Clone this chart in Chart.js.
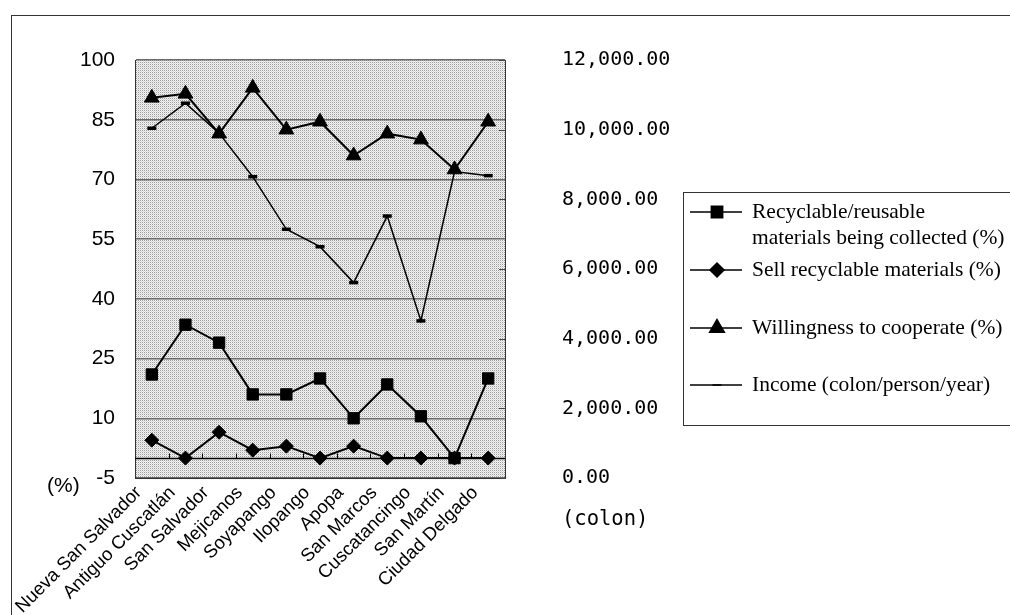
<!DOCTYPE html>
<html><head><meta charset="utf-8">
<script src="https://cdn.jsdelivr.net/npm/chart.js@4.4.1/dist/chart.umd.min.js"></script>
<style>html,body{margin:0;padding:0;background:#fff;overflow:hidden}#wrap{position:relative;width:1010px;height:615px}</style>
</head><body><div id="wrap"><canvas id="c" width="1010" height="615"></canvas></div>
<script>
const categories = ["Nueva San Salvador","Antiguo Cuscatlán","San Salvador","Mejicanos","Soyapango","Ilopango","Apopa","San Marcos","Cuscatancingo","San Martín","Ciudad Delgado"];
const recyclable = [21, 33.5, 29, 16, 16, 20, 10, 18.5, 10.5, 0, 20];
const sellRecyclable = [4.5, 0, 6.5, 2, 3, 0, 3, 0, 0, 0, 0];
const willingness = [90.5, 91.5, 81.5, 93, 82.5, 84.5, 76, 81.5, 80, 72.5, 84.5];
const income = [10040, 10760, 9900, 8650, 7140, 6640, 5610, 7520, 4510, 8800, 8680];
const leftTicks = [-5, 10, 25, 40, 55, 70, 85, 100];
const rightTicks = [0, 2000, 4000, 6000, 8000, 10000, 12000];
const seriesLabels = ["Recyclable/reusable\nmaterials being collected (%)", "Sell recyclable materials (%)", "Willingness to cooperate (%)", "Income (colon/person/year)"];
const leftAxisTitle = "(%)";
const rightAxisTitle = "(colon)";

const MONO = "'DejaVu Sans Mono', monospace";
const SANS = "'Liberation Sans', Arial, sans-serif";
const SERIF = "'Liberation Serif', 'Times New Roman', serif";

function makePattern(ctx){
  const c = document.createElement('canvas'); c.width = 2; c.height = 2;
  const x = c.getContext('2d');
  x.fillStyle = '#f4f4f4'; x.fillRect(0,0,2,2);
  x.fillStyle = '#9a9a9a'; x.fillRect(0,0,1,1);
  x.fillStyle = '#d8d8d8'; x.fillRect(1,1,1,1);
  return ctx.createPattern(c, 'repeat');
}

const decor = {
  id: 'decor',
  beforeDraw(chart){
    const ctx = chart.ctx, a = chart.chartArea;
    ctx.save();
    ctx.fillStyle = '#fff'; ctx.fillRect(0,0,chart.width,chart.height);
    ctx.strokeStyle = '#333'; ctx.lineWidth = 1;
    ctx.strokeRect(11.5, 15.5, 1200, 800);
    ctx.fillStyle = makePattern(ctx);
    ctx.fillRect(a.left, a.top, a.right - a.left, a.bottom - a.top);
    ctx.restore();
  },
  beforeDatasetsDraw(chart){
    const ctx = chart.ctx, a = chart.chartArea;
    const y = chart.scales.y, x = chart.scales.x, y1 = chart.scales.y1;
    ctx.save();
    const y0 = Math.round(y.getPixelForValue(0)) + 0.5;
    ctx.strokeStyle = '#000'; ctx.lineWidth = 1.5;
    ctx.beginPath(); ctx.moveTo(a.left, y0); ctx.lineTo(a.right, y0); ctx.stroke();
    ctx.lineWidth = 1;
    for (let i = 0; i < categories.length - 1; i++){
      const bx = Math.round((x.getPixelForValue(i) + x.getPixelForValue(i+1)) / 2) + 0.5;
      ctx.beginPath(); ctx.moveTo(bx, y0 - 5); ctx.lineTo(bx, y0); ctx.stroke();
    }
    ctx.strokeStyle = '#444';
    rightTicks.forEach(v => {
      const py = Math.round(y1.getPixelForValue(v)) + 0.5;
      ctx.beginPath(); ctx.moveTo(a.right - 6, py); ctx.lineTo(a.right, py); ctx.stroke();
    });
    ctx.restore();
  },
  afterDraw(chart){
    const ctx = chart.ctx;
    ctx.save();
    ctx.fillStyle = '#000';
    ctx.textBaseline = 'middle';
    ctx.font = "21px " + SANS;
    ctx.textAlign = 'left';
    ctx.fillText(leftAxisTitle, 47, 486);
    ctx.font = "20.5px " + MONO;
    ctx.fillText(rightAxisTitle, 562, 520);
    // legend
    ctx.strokeStyle = '#333'; ctx.lineWidth = 1;
    ctx.strokeRect(683.5, 192.5, 600, 233);
    const rowY = [212, 270, 328, 385];
    ctx.font = "21.5px " + SERIF;
    chart.data.datasets.forEach((ds, i) => {
      const yy = rowY[i];
      ctx.strokeStyle = '#000'; ctx.lineWidth = 1.5;
      ctx.beginPath(); ctx.moveTo(690, yy); ctx.lineTo(742, yy); ctx.stroke();
      ctx.fillStyle = '#000';
      Chart.helpers.drawPoint(ctx, {pointStyle: ds.pointStyle, radius: ds.pointRadius, rotation: 0, borderWidth: ds.pointBorderWidth || 1}, 717, yy);
      ctx.fillStyle = '#000';
      ctx.textAlign = 'left'; ctx.textBaseline = 'middle';
      ds.label.split('\n').forEach((ln, k) => ctx.fillText(ln, 752, yy + k * 26));
    });
    ctx.restore();
  }
};

new Chart(document.getElementById('c'), {
  type: 'line',
  data: {
    labels: categories,
    datasets: [
      {label: seriesLabels[0], data: recyclable, yAxisID: 'y', borderColor: '#000', backgroundColor: '#000', borderWidth: 2, pointStyle: 'rect', pointRadius: 8, pointBorderWidth: 1, pointBorderColor: '#000', pointBackgroundColor: '#000'},
      {label: seriesLabels[1], data: sellRecyclable, yAxisID: 'y', borderColor: '#000', backgroundColor: '#000', borderWidth: 2, pointStyle: 'rectRot', pointRadius: 7, pointBorderWidth: 1, pointBorderColor: '#000', pointBackgroundColor: '#000'},
      {label: seriesLabels[2], data: willingness, yAxisID: 'y', borderColor: '#000', backgroundColor: '#000', borderWidth: 2, pointStyle: 'triangle', pointRadius: 8.5, pointBorderWidth: 1, pointBorderColor: '#000', pointBackgroundColor: '#000'},
      {label: seriesLabels[3], data: income, yAxisID: 'y1', borderColor: '#000', backgroundColor: '#000', borderWidth: 1.5, pointStyle: 'line', pointRadius: 4.5, pointBorderWidth: 3.5, pointBorderColor: '#000', pointBackgroundColor: '#000'}
    ]
  },
  options: {
    responsive: false,
    animation: false,
    devicePixelRatio: 1,
    layout: {padding: {top: 60, left: 0, right: 0, bottom: 0}},
    plugins: {legend: {display: false}, tooltip: {enabled: false}},
    elements: {line: {tension: 0}},
    scales: {
      x: {
        type: 'category', offset: true,
        grid: {display: false, drawTicks: false},
        border: {display: true, color: '#333', width: 1},
        ticks: {color: '#000', font: {family: SANS, size: 18.5}, minRotation: 45, maxRotation: 45, autoSkip: false, padding: 4, labelOffset: -13},
        afterFit(s){ s.height = 615 - 478; }
      },
      y: {
        type: 'linear', position: 'left', min: -5, max: 100,
        afterBuildTicks(s){ s.ticks = leftTicks.map(v => ({value: v})); },
        grid: {color: '#6a6a6a', lineWidth: 1.5, drawTicks: true, tickLength: 18, tickColor: 'rgba(0,0,0,0)'},
        border: {display: true, color: '#333', width: 1},
        ticks: {color: '#000', font: {family: SANS, size: 21}, padding: 2},
        afterFit(s){ s.width = 135; }
      },
      y1: {
        type: 'linear', position: 'right', min: 0, max: 12000,
        afterBuildTicks(s){ s.ticks = rightTicks.map(v => ({value: v})); },
        grid: {drawOnChartArea: false, drawTicks: true, tickLength: 55, tickColor: 'rgba(0,0,0,0)'},
        border: {display: true, color: '#333', width: 1},
        ticks: {color: '#000', font: {family: MONO, size: 20}, padding: 2,
          callback: v => Number(v).toLocaleString('en-US', {minimumFractionDigits: 2, maximumFractionDigits: 2})},
        afterFit(s){ s.width = 1010 - 505; }
      }
    }
  },
  plugins: [decor]
});
</script></body></html>
